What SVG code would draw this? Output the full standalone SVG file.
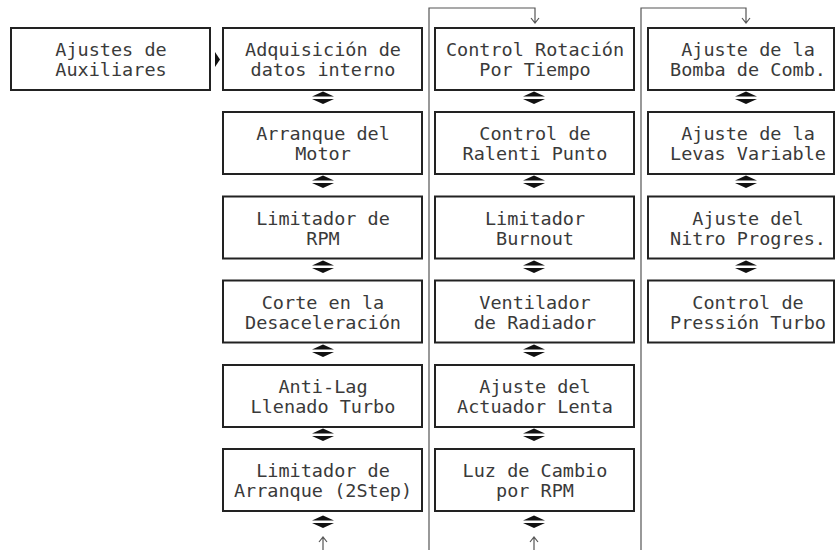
<svg xmlns="http://www.w3.org/2000/svg" width="835" height="550" viewBox="0 0 835 550">
<defs>
<style>
.box{fill:#fff;stroke:#222;stroke-width:2}
.t{font-family:"DejaVu Sans Mono","Liberation Mono",monospace;font-size:18.5px;fill:#3a3a3a;text-anchor:middle}
.ln{fill:none;stroke:#555;stroke-width:1.2}
.dbl{fill:#111}
</style>
<g id="dblarrow"><polygon class="dbl" points="-11,-1.5 11,-1.5 0,-6.5"/><polygon class="dbl" points="-11,1 11,1 0,6"/></g>
</defs>
<rect width="835" height="550" fill="#fff"/>
<g id="connectors">
<path class="ln" d="M429,550 V8 H535 V23 M531,18 L535,23 L539,18"/>
<path class="ln" d="M641,550 V8 H746 V23 M742,18 L746,23 L750,18"/>
<path class="ln" d="M323,550 V537 M319,542 L323,537 L327,542"/>
<path class="ln" d="M534,550 V537 M530,542 L534,537 L538,542"/>
<polygon class="dbl" points="215,52 220,59.5 215,67"/>
<use href="#dblarrow" x="323" y="98"/>
<use href="#dblarrow" x="323" y="182"/>
<use href="#dblarrow" x="323" y="267"/>
<use href="#dblarrow" x="323" y="351"/>
<use href="#dblarrow" x="323" y="435"/>
<use href="#dblarrow" x="323" y="522"/>
<use href="#dblarrow" x="534" y="98"/>
<use href="#dblarrow" x="534" y="182"/>
<use href="#dblarrow" x="534" y="267"/>
<use href="#dblarrow" x="534" y="351"/>
<use href="#dblarrow" x="534" y="435"/>
<use href="#dblarrow" x="534" y="522"/>
<use href="#dblarrow" x="746" y="98"/>
<use href="#dblarrow" x="746" y="182"/>
<use href="#dblarrow" x="746" y="267"/>
</g>
<g id="n0"><rect class="box" x="11" y="28" width="199" height="62"/><text class="t" x="111" y="56">Ajustes de</text><text class="t" x="111" y="76">Auxiliares</text></g>

<g id="c1r1"><rect class="box" x="223" y="28" width="199" height="62"/><text class="t" x="323" y="56">Adquisición de</text><text class="t" x="323" y="76">datos interno</text></g>
<g id="c1r2"><rect class="box" x="223" y="112" width="199" height="62"/><text class="t" x="323" y="140">Arranque del</text><text class="t" x="323" y="160">Motor</text></g>
<g id="c1r3"><rect class="box" x="223" y="196.5" width="199" height="62"/><text class="t" x="323" y="224.5">Limitador de</text><text class="t" x="323" y="244.5">RPM</text></g>
<g id="c1r4"><rect class="box" x="223" y="280.5" width="199" height="62"/><text class="t" x="323" y="308.5">Corte en la</text><text class="t" x="323" y="328.5">Desaceleración</text></g>
<g id="c1r5"><rect class="box" x="223" y="365" width="199" height="62"/><text class="t" x="323" y="393">Anti-Lag</text><text class="t" x="323" y="413">Llenado Turbo</text></g>
<g id="c1r6"><rect class="box" x="223" y="449" width="199" height="62"/><text class="t" x="323" y="477">Limitador de</text><text class="t" x="323" y="497">Arranque (2Step)</text></g>

<g id="c2r1"><rect class="box" x="435" y="28" width="199" height="62"/><text class="t" x="535" y="56">Control Rotación</text><text class="t" x="535" y="76">Por Tiempo</text></g>
<g id="c2r2"><rect class="box" x="435" y="112" width="199" height="62"/><text class="t" x="535" y="140">Control de</text><text class="t" x="535" y="160">Ralenti Punto</text></g>
<g id="c2r3"><rect class="box" x="435" y="196.5" width="199" height="62"/><text class="t" x="535" y="224.5">Limitador</text><text class="t" x="535" y="244.5">Burnout</text></g>
<g id="c2r4"><rect class="box" x="435" y="280.5" width="199" height="62"/><text class="t" x="535" y="308.5">Ventilador</text><text class="t" x="535" y="328.5">de Radiador</text></g>
<g id="c2r5"><rect class="box" x="435" y="365" width="199" height="62"/><text class="t" x="535" y="393">Ajuste del</text><text class="t" x="535" y="413">Actuador Lenta</text></g>
<g id="c2r6"><rect class="box" x="435" y="449" width="199" height="62"/><text class="t" x="535" y="477">Luz de Cambio</text><text class="t" x="535" y="497">por RPM</text></g>

<g id="c3r1"><rect class="box" x="648" y="28" width="186" height="62"/><text class="t" x="748" y="56">Ajuste de la</text><text class="t" x="748" y="76">Bomba de Comb.</text></g>
<g id="c3r2"><rect class="box" x="648" y="112" width="186" height="62"/><text class="t" x="748" y="140">Ajuste de la</text><text class="t" x="748" y="160">Levas Variable</text></g>
<g id="c3r3"><rect class="box" x="648" y="196.5" width="186" height="62"/><text class="t" x="748" y="224.5">Ajuste del</text><text class="t" x="748" y="244.5">Nitro Progres.</text></g>
<g id="c3r4"><rect class="box" x="648" y="280.5" width="186" height="62"/><text class="t" x="748" y="308.5">Control de</text><text class="t" x="748" y="328.5">Pressión Turbo</text></g>
</svg>
